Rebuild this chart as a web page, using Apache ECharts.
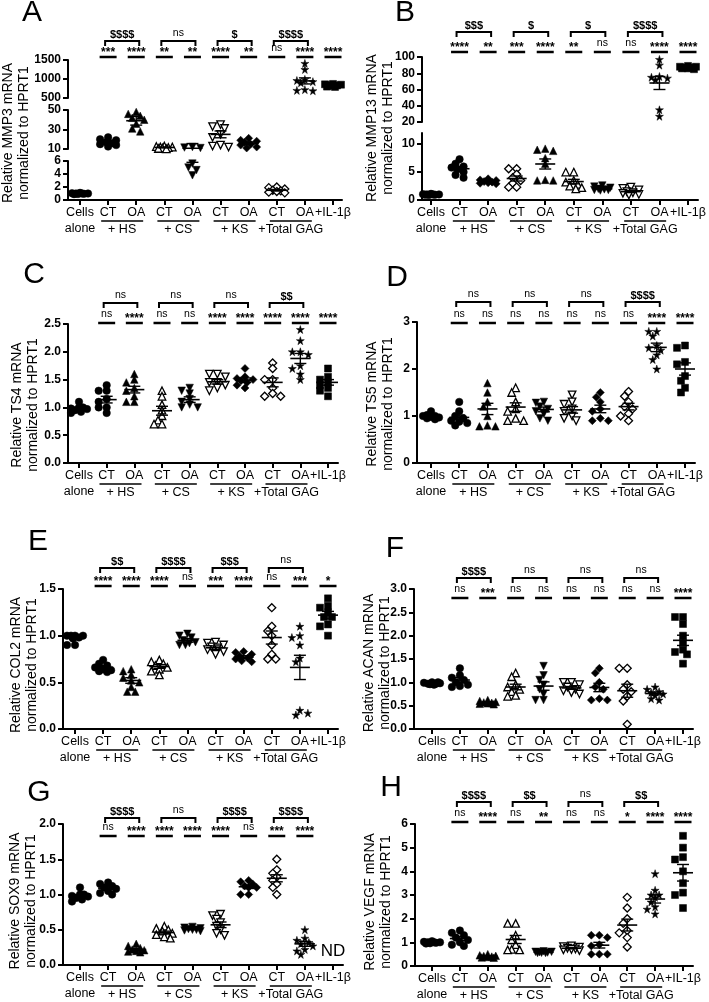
<!DOCTYPE html>
<html><head><meta charset="utf-8">
<style>html,body{margin:0;padding:0;background:#fff}#c{width:709px;height:1002px}</style>
<script src="https://cdn.jsdelivr.net/npm/echarts@6.0.0/dist/echarts.min.js"></script>
</head><body><div id="c"></div>
<script>
// ---------- shared labels ----------
const categories = ['Cells\nalone','CT','OA','CT','OA','CT','OA','CT','OA','+IL-1β'];
const groupLabels = ['+ HS','+ CS','+ KS','+Total GAG'];
const panelLetters = ['A','B','C','D','E','F','G','H'];
const yTitles = ['Relative MMP3 mRNA\nnormalized to HPRT1','Relative MMP13 mRNA\nnormalized to HPRT1','Relative TS4 mRNA\nnormalized to HPRT1','Relative TS5 mRNA\nnormalized to HPRT1','Relative COL2 mRNA\nnormalized to HPRT1','Relative ACAN mRNA\nnormalized to HPRT1','Relative SOX9 mRNA\nnormalized to HPRT1','Relative VEGF mRNA\nnormalized to HPRT1'];

// ---------- A: MMP3 ----------
const mmp3Values = [[1.1,1.05,1.0,1.0,0.95,0.92,0.9,1.0],[22,20,19,17,16,15,14,12.5],[48,46,44,42,40,36,31,28],[13,12.5,12,12,11.5,11,10.5,10.2],[12,11.5,11,5.6,5.0,4.6,3.8],[35,33,31,25,22,14,13,12],[21,19,18,17,15,14,12,11],[2.0,1.9,1.7,1.5,1.4,1.3,1.2,1.1],[1410,1250,990,960,930,900,720,700,690],[870,860,850,840,830,820,800,790]];
const mmp3Mean = [1.0,17,39,11.6,10.7,25,16,1.5,950,833];
const mmp3Sem = [0.03,1.2,4.5,0.4,4.9,3.5,1.2,0.12,80,10];
const mmp3Stars = ['','***','****','**','**','****','**','ns','****','****'];
const mmp3Dollars = ['$$$$','ns','$','$$$$'];
const mmp3Ticks = [['0','2','4','6'],['10','30','50'],['500','1000','1500']];
const mmp3Ranges = [[0,6],[10,50],[500,1500]];

// ---------- B: MMP13 ----------
const mmp13Values = [[1.1,1.05,1.0,1.0,0.95,0.9,1.0,0.95],[7.3,6.5,6.0,5.8,5.5,5.0,4.5,4.0],[3.8,3.6,3.5,3.3,3.2,3.1,3.0,2.9],[5.6,5.6,4.6,4.0,3.5,3.0,2.3,2.3],[9.2,9.0,8.8,7.5,6.5,3.6,3.5,3.5],[5.0,5.0,3.5,3.2,2.8,2.5,2.2,2.0],[2.6,2.4,2.2,2.0,1.9,1.8,1.8,1.7],[2.3,2.1,1.8,1.5,1.3,1.2,1.0,0.9],[97,90,76,75,74,72,35,27],[89,88,88,87,87,86,86,85]];
const mmp13Mean = [1.0,5.6,3.3,3.85,6.45,3.3,2.0,1.5,68,87];
const mmp13Sem = [0.03,0.4,0.1,0.45,0.9,0.4,0.1,0.17,8,0.5];
const mmp13Stars = ['','****','**','***','****','**','ns','ns','****','****'];
const mmp13Dollars = ['$$$','$','$','$$$$'];
const mmp13Ticks = [['0','5','10'],['20','40','60','80','100']];
const mmp13Ranges = [[0,12],[20,100]];

// ---------- C: TS4 ----------
const ts4Values = [[1.1,1.0,0.98,0.97,0.95,0.92,0.9,1.0],[1.4,1.3,1.3,1.15,1.1,1.0,1.0,0.9],[1.6,1.5,1.45,1.35,1.3,1.2,1.1,1.1],[1.3,1.2,1.05,0.95,0.85,0.77,0.7,0.7],[1.35,1.3,1.25,1.15,1.1,1.05,1.0,1.0],[1.6,1.6,1.55,1.45,1.45,1.4,1.35,1.3],[1.7,1.55,1.52,1.5,1.48,1.45,1.4,1.35],[1.8,1.7,1.5,1.5,1.35,1.25,1.2,1.2],[2.4,2.2,2.0,2.0,1.95,1.75,1.7,1.6,1.5],[1.7,1.55,1.5,1.45,1.4,1.35,1.3,1.2]];
const ts4Mean = [0.98,1.14,1.32,0.94,1.14,1.46,1.49,1.45,1.88,1.45];
const ts4Sem = [0.02,0.06,0.06,0.08,0.05,0.04,0.04,0.08,0.09,0.05];
const ts4Stars = ['','ns','****','ns','ns','****','****','****','****','****'];
const ts4Dollars = ['ns','ns','ns','$$'];
const ts4Ticks = [['0.0','0.5','1.0','1.5','2.0','2.5']];
const ts4Ranges = [[0,2.5]];

// ---------- D: TS5 ----------
const ts5Values = [[1.1,1.02,1.0,1.0,0.98,0.97,0.95,0.93],[1.3,1.1,1.0,0.95,0.9,0.88,0.85,0.8],[1.7,1.5,1.3,1.2,1.0,0.8,0.78,0.78],[1.6,1.5,1.3,1.15,1.1,0.95,0.9,0.9],[1.3,1.28,1.2,1.15,1.1,1.05,0.95,0.9],[1.45,1.3,1.25,1.15,1.1,1.0,0.95,0.9],[1.5,1.4,1.3,1.15,1.1,0.95,0.9,0.9],[1.52,1.42,1.3,1.2,1.15,1.05,1.0,0.9],[2.8,2.8,2.7,2.5,2.45,2.4,2.3,2.2,2.0],[2.5,2.45,2.15,2.1,1.85,1.75,1.6,1.5]];
const ts5Mean = [0.99,0.97,1.15,1.19,1.14,1.13,1.15,1.2,2.46,2.0];
const ts5Sem = [0.02,0.05,0.12,0.09,0.05,0.07,0.08,0.07,0.09,0.13];
const ts5Stars = ['','ns','ns','ns','ns','ns','ns','ns','****','****'];
const ts5Dollars = ['ns','ns','ns','$$$$'];
const ts5Ticks = [['0','1','2','3']];
const ts5Ranges = [[0,3]];

// ---------- E: COL2 ----------
const col2Values = [[1.0,1.0,1.0,1.0,0.98,0.97,0.9,0.9],[0.74,0.7,0.68,0.66,0.64,0.63,0.62,0.61],[0.64,0.62,0.58,0.55,0.52,0.5,0.45,0.4,0.4],[0.74,0.72,0.7,0.68,0.66,0.64,0.62,0.58],[1.02,1.0,0.98,0.95,0.93,0.92,0.9,0.9],[0.93,0.92,0.9,0.88,0.87,0.85,0.83,0.8],[0.83,0.82,0.8,0.78,0.76,0.75,0.73,0.72],[1.3,1.1,1.05,1.0,0.9,0.8,0.75,0.75],[1.1,1.0,0.98,0.9,0.76,0.72,0.2,0.15,0.17],[1.4,1.32,1.3,1.25,1.2,1.2,1.12,1.1,1.0]];
const col2Mean = [0.98,0.66,0.52,0.67,0.95,0.87,0.77,0.98,0.66,1.22];
const col2Sem = [0.02,0.02,0.03,0.02,0.02,0.02,0.015,0.07,0.13,0.04];
const col2Stars = ['','****','****','****','ns','***','****','ns','***','*'];
const col2Dollars = ['$$','$$$$','$$$','ns'];
const col2Ticks = [['0.0','0.5','1.0','1.5']];
const col2Ranges = [[0,1.5]];

// ---------- F: ACAN ----------
const acanValues = [[1.0,0.99,0.98,0.97,0.97,0.96,0.95,1.0],[1.3,1.15,1.1,1.05,1.0,0.95,0.92,0.9],[0.62,0.6,0.58,0.57,0.56,0.55,0.54,0.53],[1.2,1.12,0.95,0.9,0.85,0.8,0.72,0.7],[1.35,1.15,1.05,0.95,0.85,0.75,0.62,0.62],[1.0,1.0,0.95,0.9,0.85,0.82,0.78,0.75],[1.3,1.2,1.0,0.9,0.85,0.65,0.62,0.62],[1.3,1.3,0.95,0.85,0.8,0.7,0.6,0.1],[0.9,0.85,0.8,0.78,0.75,0.72,0.65,0.62],[2.4,2.4,2.25,2.0,1.85,1.7,1.65,1.6,1.4]];
const acanMean = [0.98,1.05,0.57,0.9,0.92,0.88,0.89,0.82,0.76,1.9];
const acanSem = [0.01,0.05,0.01,0.06,0.09,0.03,0.09,0.14,0.03,0.11];
const acanStars = ['','ns','***','ns','ns','ns','ns','ns','ns','****'];
const acanDollars = ['$$$$','ns','ns','ns'];
const acanTicks = [['0.0','0.5','1.0','1.5','2.0','2.5','3.0']];
const acanRanges = [[0,3]];

// ---------- G: SOX9 ----------
const sox9Values = [[1.1,1.0,0.98,0.97,0.95,0.93,0.9,1.0],[1.17,1.15,1.12,1.1,1.08,1.05,1.02,1.0],[0.3,0.27,0.24,0.22,0.21,0.2,0.19,0.18],[0.55,0.52,0.5,0.48,0.45,0.43,0.4,0.38],[0.54,0.53,0.52,0.51,0.5,0.5,0.49,0.48],[0.72,0.7,0.65,0.6,0.55,0.5,0.45,0.42],[1.2,1.18,1.15,1.12,1.1,1.1,1.0,1.0],[1.5,1.35,1.3,1.25,1.2,1.15,1.1,1.0],[0.5,0.38,0.35,0.32,0.3,0.27,0.22,0.2,0.15],[]];
const sox9Mean = [0.98,1.09,0.22,0.46,0.51,0.57,1.11,1.23,0.3,null];
const sox9Sem = [0.02,0.02,0.015,0.02,0.01,0.04,0.025,0.05,0.035,null];
const sox9Stars = ['','ns','****','****','****','****','ns','***','****',''];
const sox9Dollars = ['$$$$','ns','$$$$','$$$$'];
const sox9Ticks = [['0.0','0.5','1.0','1.5','2.0']];
const sox9Ranges = [[0,2]];
const sox9Note = 'ND';

// ---------- H: VEGF ----------
const vegfValues = [[1.05,1.02,1.0,1.0,0.98,0.96,0.95,1.0],[1.5,1.4,1.3,1.2,1.1,1.0,0.9,0.85],[0.5,0.45,0.43,0.42,0.4,0.38,0.36,0.35],[1.8,1.8,1.3,1.1,0.9,0.7,0.68,0.68],[0.62,0.6,0.6,0.58,0.57,0.56,0.55,0.55],[0.85,0.82,0.8,0.75,0.72,0.7,0.68,0.65],[1.3,1.3,1.2,0.9,0.85,0.5,0.5,0.5],[2.9,2.45,2.0,1.8,1.5,1.4,1.2,0.8],[3.9,3.2,3.0,3.0,2.9,2.7,2.5,2.4,2.2],[5.5,5.0,4.6,4.5,4.0,3.5,3.1,3.0,2.45]];
const vegfMean = [1.0,1.16,0.41,1.12,0.58,0.75,0.88,1.73,2.83,3.94];
const vegfSem = [0.01,0.08,0.02,0.17,0.01,0.025,0.12,0.25,0.17,0.35];
const vegfStars = ['','ns','****','ns','**','ns','ns','*','****','****'];
const vegfDollars = ['$$$$','$$','ns','$$'];
const vegfTicks = [['0','1','2','3','4','5','6']];
const vegfRanges = [[0,6]];

// ---------- layout (pixels, styling only) ----------
const layouts = [
  {L:68, x0:80, x9:333, right:342, segs:[[161,200],[110,149],[60,98]], starY:57, bracketY:41, tx:16, ty:133, lx:32, ly:13},
  {L:422, x0:431, x9:688, right:698, segs:[[133,200],[57,122]], starY:52, bracketY:32, tx:380, ty:128, lx:405, ly:13},
  {L:68, x0:79, x9:328, right:338, segs:[[324,463]], starY:323, bracketY:303, tx:25, ty:405, lx:34, ly:275},
  {L:417, x0:431, x9:685, right:695, segs:[[322,463]], starY:323, bracketY:302, tx:380, ty:404, lx:397, ly:278},
  {L:63, x0:75, x9:328, right:338, segs:[[589,729]], starY:586, bracketY:568, tx:24, ty:665, lx:38, ly:542},
  {L:414, x0:432, x9:683, right:693, segs:[[589,729]], starY:598, bracketY:578, tx:377, ty:663, lx:395, ly:549},
  {L:63, x0:80, x9:333, right:343, segs:[[824,965]], starY:836, bracketY:818, tx:23, ty:901, lx:39, ly:793},
  {L:415, x0:432, x9:683, right:693, segs:[[824,966]], starY:822, bracketY:802, tx:378, ty:902, lx:391, ly:788}
];

const FONT = "'Liberation Sans', Arial, Helvetica, sans-serif";
const STAR = 'path://M50,2 L61,37 L98,37 L68,59 L79,95 L50,73 L21,95 L32,59 L2,37 L39,37 Z';
const symDefault = [
  {symbol:'circle', fill:true, size:7.5}, {symbol:'circle', fill:true, size:7.5}, {symbol:'triangle', fill:true, size:7.5},
  {symbol:'triangle', fill:false, size:7.5}, {symbol:'triangle', rot:180, fill:true, size:7.5}, {symbol:'triangle', rot:180, fill:false, size:7.5},
  {symbol:'diamond', fill:true, size:8}, {symbol:'diamond', fill:false, size:8}, {symbol:STAR, fill:true, size:8}, {symbol:'rect', fill:true, size:7}];
const symB = [
  {symbol:'circle', fill:true, size:7.5}, {symbol:'circle', fill:true, size:7.5}, {symbol:'diamond', fill:true, size:8},
  {symbol:'diamond', fill:false, size:8}, {symbol:'triangle', fill:true, size:7.5}, {symbol:'triangle', fill:false, size:7.5},
  {symbol:'triangle', rot:180, fill:true, size:7.5}, {symbol:'triangle', rot:180, fill:false, size:7.5}, {symbol:STAR, fill:true, size:8}, {symbol:'rect', fill:true, size:7}];

const panels = [
  {values:mmp3Values, mean:mmp3Mean, sem:mmp3Sem, stars:mmp3Stars, dollars:mmp3Dollars, ticks:mmp3Ticks, ranges:mmp3Ranges, syms:symDefault},
  {values:mmp13Values, mean:mmp13Mean, sem:mmp13Sem, stars:mmp13Stars, dollars:mmp13Dollars, ticks:mmp13Ticks, ranges:mmp13Ranges, syms:symB},
  {values:ts4Values, mean:ts4Mean, sem:ts4Sem, stars:ts4Stars, dollars:ts4Dollars, ticks:ts4Ticks, ranges:ts4Ranges, syms:symDefault},
  {values:ts5Values, mean:ts5Mean, sem:ts5Sem, stars:ts5Stars, dollars:ts5Dollars, ticks:ts5Ticks, ranges:ts5Ranges, syms:symDefault},
  {values:col2Values, mean:col2Mean, sem:col2Sem, stars:col2Stars, dollars:col2Dollars, ticks:col2Ticks, ranges:col2Ranges, syms:symDefault},
  {values:acanValues, mean:acanMean, sem:acanSem, stars:acanStars, dollars:acanDollars, ticks:acanTicks, ranges:acanRanges, syms:symDefault},
  {values:sox9Values, mean:sox9Mean, sem:sox9Sem, stars:sox9Stars, dollars:sox9Dollars, ticks:sox9Ticks, ranges:sox9Ranges, syms:symDefault, note:sox9Note},
  {values:vegfValues, mean:vegfMean, sem:vegfSem, stars:vegfStars, dollars:vegfDollars, ticks:vegfTicks, ranges:vegfRanges, syms:symDefault}
];

function inRange(v, r) { return v >= r[0] - 1e-9 && v <= r[1] + 1e-9; }
function pixY(lay, ranges, v) {
  for (let s = 0; s < ranges.length; s++) {
    if (inRange(v, ranges[s])) { const t = lay.segs[s][0], b = lay.segs[s][1]; return b - (v - ranges[s][0]) / (ranges[s][1] - ranges[s][0]) * (b - t); }
  }
  return null;
}
// compact horizontal spreading of overlapping points (pixel offsets, style only)
function swarm(ys, d) {
  const placed = []; const cands = [0,-4,4,-8,8,-2,2,-6,6];
  return ys.map(y => {
    if (y === null) return 0;
    let best = 0, bestD = -1;
    for (const c of cands) {
      let md = Infinity;
      placed.forEach(p => { md = Math.min(md, Math.hypot(p[0]-c, p[1]-y)); });
      if (md >= d) { best = c; bestD = md; break; }
      if (md > bestD) { bestD = md; best = c; }
    }
    placed.push([best, y]); return best;
  });
}

const option = {animation:false, textStyle:{fontFamily:FONT}, grid:[], xAxis:[], yAxis:[], series:[], graphic:[]};
const line = (x1,y1,x2,y2,w) => ({type:'line', shape:{x1,y1,x2,y2}, style:{stroke:'#000', lineWidth:w||2}});
const txt = (x,y,text,font,va) => ({type:'text', x, y, style:{text, font, fill:'#000', align:'center', verticalAlign:va||'middle', textAlign:'center', textVerticalAlign:va||'middle'}});

panels.forEach((p, pi) => {
  const lay = layouts[pi];
  const u = (lay.x9 - lay.x0) / 9;
  const xmin = (lay.L - lay.x0) / u, xmax = (lay.right - lay.x0) / u;
  const offsets = p.values.map(vals => swarm(vals.map(v => pixY(lay, p.ranges, v)), 5));
  let bottomGrid = null;
  lay.segs.forEach((seg, si) => {
    const gi = option.grid.length;
    if (si === 0) bottomGrid = gi;
    const range = p.ranges[si];
    option.grid.push({left:lay.L, top:seg[0], width:lay.right - lay.L, height:seg[1] - seg[0], containLabel:false, outerBoundsMode:'none', show:false});
    option.xAxis.push({gridIndex:gi, type:'value', min:xmin, max:xmax, show:si === 0,
      splitLine:{show:false},
      axisLine:{show:true, onZero:false, lineStyle:{color:'#000', width:2}},
      axisTick:{show:true, length:5, lineStyle:{color:'#000', width:2}, customValues:[0,1,2,3,4,5,6,7,8,9]},
      axisLabel:{customValues:[0,1,2,3,4,5,6,7,8,9], formatter:v => categories[Math.round(v)], color:'#000', fontSize:12.5, lineHeight:16, margin:5, fontFamily:FONT}
    });
    const tv = p.ticks[si].map(Number);
    option.yAxis.push({gridIndex:gi, type:'value', min:range[0], max:range[1],
      splitLine:{show:false}, nameMoveOverlap:false,
      axisLine:{show:true, onZero:false, lineStyle:{color:'#000', width:2}},
      axisTick:{show:true, length:5, lineStyle:{color:'#000', width:2}, customValues:tv},
      axisLabel:{customValues:tv, formatter:v => { const k = tv.findIndex(t => Math.abs(t - v) < 1e-9); return k >= 0 ? p.ticks[si][k] : ''; }, color:'#000', fontWeight:'bold', fontSize:12, margin:7, fontFamily:FONT}
    });
    // points
    p.values.forEach((vals, ci) => {
      const sym = p.syms[ci];
      const data = [];
      vals.forEach((v, k) => { if (inRange(v, range)) data.push({value:[ci, v], symbolOffset:[offsets[ci][k], 0]}); });
      if (!data.length) return;
      option.series.push({type:'scatter', xAxisIndex:gi, yAxisIndex:gi, silent:true, z:2, data,
        symbol:sym.symbol, symbolSize:sym.size, symbolRotate:sym.rot || 0,
        itemStyle: sym.fill ? {color:'#000', borderColor:'#000', borderWidth:0.5, opacity:1} : {color:'#fff', borderColor:'#000', borderWidth:1.3, opacity:1}
      });
    });
    // mean +/- SEM
    const msData = [];
    p.mean.forEach((m, ci) => { if (m !== null) msData.push([ci, m, p.sem[ci]]); });
    option.series.push({type:'custom', xAxisIndex:gi, yAxisIndex:gi, silent:true, z:3, clip:true, data:msData,
      renderItem:(params, api) => {
        const i = api.value(0), m = api.value(1), s = api.value(2);
        const c = api.coord([i, m]), t = api.coord([i, m + s]), b = api.coord([i, m - s]);
        return {type:'group', children:[
          line(c[0]-10, c[1], c[0]+10, c[1], 1.6),
          line(c[0], t[1], c[0], b[1], 1.4),
          line(c[0]-6, t[1], c[0]+6, t[1], 1.4),
          line(c[0]-6, b[1], c[0]+6, b[1], 1.4)
        ]};
      }
    });
  });
  // annotations and group labels
  const bottomY = lay.segs[0][1];
  const y0 = p.ranges[0][0];
  option.series.push({type:'custom', xAxisIndex:bottomGrid, yAxisIndex:bottomGrid, silent:true, z:4, clip:false,
    data:[0,1,2,3,4,5,6,7,8,9].map(i => [i, y0]),
    renderItem:(params, api) => {
      const i = api.value(0);
      const x = api.coord([i, y0])[0];
      const ch = [];
      const st = p.stars[i];
      if (st) {
        ch.push(line(x-8.5, lay.starY, x+8.5, lay.starY, 2.5));
        if (st.indexOf('*') >= 0) ch.push(txt(x, lay.starY - 4, st, 'bold 12px ' + FONT));
        else ch.push(txt(x, lay.starY - 9, st, '10.5px ' + FONT));
      }
      if (i % 2 === 1 && i <= 7) {
        const x2 = api.coord([i + 1, y0])[0];
        const xm = api.coord([i + 0.5, y0])[0];
        ch.push({type:'polyline', shape:{points:[[x-3, lay.bracketY+5],[x-3, lay.bracketY],[x2+3, lay.bracketY],[x2+3, lay.bracketY+5]]}, style:{stroke:'#000', lineWidth:2, fill:null}});
        const dl = p.dollars[(i - 1) / 2];
        if (dl.indexOf('$') >= 0) ch.push(txt(xm, lay.bracketY - 6, dl, 'bold 11px ' + FONT));
        else ch.push(txt(xm, lay.bracketY - 8, dl, '10.5px ' + FONT));
        ch.push(line(xm - 21, bottomY + 21, xm + 21, bottomY + 21, 1.5));
        ch.push(txt(xm, bottomY + 30, groupLabels[(i - 1) / 2], '12.5px ' + FONT));
      }
      if (i === 9 && p.note) ch.push(txt(x, bottomY - 14, p.note, '17px ' + FONT));
      return {type:'group', children:ch};
    }
  });
  option.graphic.push({type:'text', x:lay.lx, y:lay.ly, style:{text:panelLetters[pi], font:'30px ' + FONT, fill:'#000', align:'center', verticalAlign:'middle', textAlign:'center', textVerticalAlign:'middle'}});
  option.graphic.push({type:'text', x:lay.tx, y:lay.ty, rotation:Math.PI / 2, style:{text:yTitles[pi], font:'14px ' + FONT, lineHeight:16, fill:'#000', align:'center', verticalAlign:'middle', textAlign:'center', textVerticalAlign:'middle'}});
});

const chart = echarts.init(document.getElementById('c'), null, {renderer:'canvas', width:709, height:1002});
chart.setOption(option);
</script>
</body></html>
